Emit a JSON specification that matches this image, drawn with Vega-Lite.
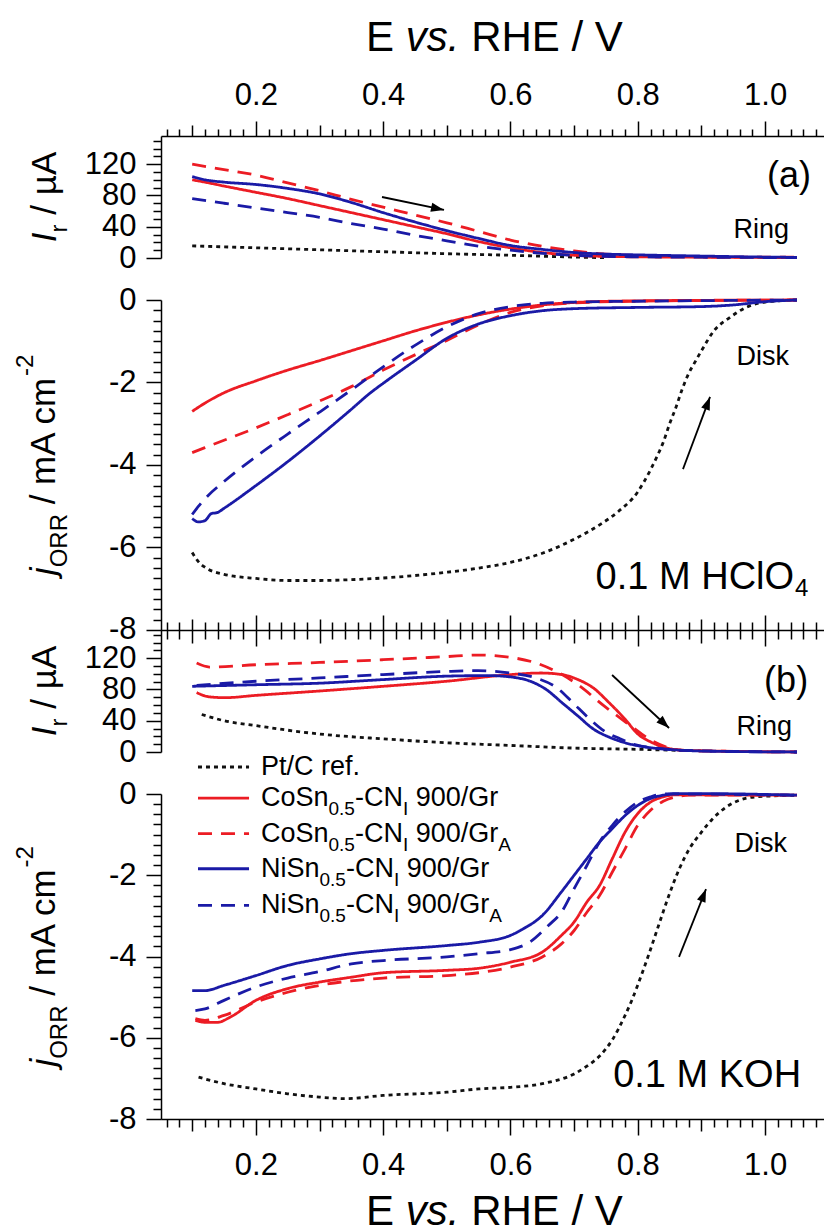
{
"$schema": "https://vega.github.io/schema/vega-lite/v6.json",
"padding": {"left": 14, "top": 16, "right": 0, "bottom": 0},
"background": "white",
"spacing": 42,
"bounds": "flush",
"datasets": {
"curves": [
{"p":"rA","s":"Pt/C ref.","E":0.1,"v":15.5},{"p":"rA","s":"Pt/C ref.","E":0.2,"v":13},{"p":"rA","s":"Pt/C ref.","E":0.3,"v":10.5},{"p":"rA","s":"Pt/C ref.","E":0.4,"v":8},{"p":"rA","s":"Pt/C ref.","E":0.5,"v":5.5},{"p":"rA","s":"Pt/C ref.","E":0.6,"v":3.5},{"p":"rA","s":"Pt/C ref.","E":0.7,"v":1.2},{"p":"rA","s":"Pt/C ref.","E":0.75,"v":0.4},
{"p":"rA","s":"CoSn Gr","E":0.1,"v":100},{"p":"rA","s":"CoSn Gr","E":0.12,"v":97},{"p":"rA","s":"CoSn Gr","E":0.15,"v":92},{"p":"rA","s":"CoSn Gr","E":0.2,"v":84},{"p":"rA","s":"CoSn Gr","E":0.25,"v":76},{"p":"rA","s":"CoSn Gr","E":0.3,"v":67},{"p":"rA","s":"CoSn Gr","E":0.35,"v":58},{"p":"rA","s":"CoSn Gr","E":0.4,"v":49},{"p":"rA","s":"CoSn Gr","E":0.45,"v":40},{"p":"rA","s":"CoSn Gr","E":0.5,"v":31},{"p":"rA","s":"CoSn Gr","E":0.55,"v":21},{"p":"rA","s":"CoSn Gr","E":0.6,"v":13},{"p":"rA","s":"CoSn Gr","E":0.65,"v":7},{"p":"rA","s":"CoSn Gr","E":0.7,"v":3.5},{"p":"rA","s":"CoSn Gr","E":0.75,"v":2},{"p":"rA","s":"CoSn Gr","E":0.8,"v":1.5},{"p":"rA","s":"CoSn Gr","E":0.9,"v":1},{"p":"rA","s":"CoSn Gr","E":1.05,"v":0.5},
{"p":"rA","s":"CoSn GrA","E":0.1,"v":120},{"p":"rA","s":"CoSn GrA","E":0.15,"v":113},{"p":"rA","s":"CoSn GrA","E":0.2,"v":106},{"p":"rA","s":"CoSn GrA","E":0.25,"v":96},{"p":"rA","s":"CoSn GrA","E":0.3,"v":86},{"p":"rA","s":"CoSn GrA","E":0.35,"v":75},{"p":"rA","s":"CoSn GrA","E":0.4,"v":65},{"p":"rA","s":"CoSn GrA","E":0.45,"v":55},{"p":"rA","s":"CoSn GrA","E":0.5,"v":45},{"p":"rA","s":"CoSn GrA","E":0.55,"v":34},{"p":"rA","s":"CoSn GrA","E":0.6,"v":23},{"p":"rA","s":"CoSn GrA","E":0.65,"v":15},{"p":"rA","s":"CoSn GrA","E":0.7,"v":9},{"p":"rA","s":"CoSn GrA","E":0.75,"v":5},{"p":"rA","s":"CoSn GrA","E":0.8,"v":3},{"p":"rA","s":"CoSn GrA","E":0.9,"v":1.5},{"p":"rA","s":"CoSn GrA","E":1.05,"v":1},
{"p":"rA","s":"NiSn Gr","E":0.1,"v":104},{"p":"rA","s":"NiSn Gr","E":0.12,"v":100},{"p":"rA","s":"NiSn Gr","E":0.15,"v":97},{"p":"rA","s":"NiSn Gr","E":0.2,"v":94},{"p":"rA","s":"NiSn Gr","E":0.25,"v":89},{"p":"rA","s":"NiSn Gr","E":0.3,"v":82},{"p":"rA","s":"NiSn Gr","E":0.35,"v":71},{"p":"rA","s":"NiSn Gr","E":0.4,"v":58},{"p":"rA","s":"NiSn Gr","E":0.45,"v":46},{"p":"rA","s":"NiSn Gr","E":0.5,"v":35},{"p":"rA","s":"NiSn Gr","E":0.55,"v":25},{"p":"rA","s":"NiSn Gr","E":0.6,"v":16},{"p":"rA","s":"NiSn Gr","E":0.65,"v":11},{"p":"rA","s":"NiSn Gr","E":0.7,"v":7},{"p":"rA","s":"NiSn Gr","E":0.75,"v":5},{"p":"rA","s":"NiSn Gr","E":0.8,"v":4},{"p":"rA","s":"NiSn Gr","E":0.9,"v":2.5},{"p":"rA","s":"NiSn Gr","E":1.0,"v":1.2},{"p":"rA","s":"NiSn Gr","E":1.05,"v":0.8},
{"p":"rA","s":"NiSn GrA","E":0.1,"v":76},{"p":"rA","s":"NiSn GrA","E":0.15,"v":70},{"p":"rA","s":"NiSn GrA","E":0.2,"v":64},{"p":"rA","s":"NiSn GrA","E":0.25,"v":58},{"p":"rA","s":"NiSn GrA","E":0.3,"v":52},{"p":"rA","s":"NiSn GrA","E":0.35,"v":44},{"p":"rA","s":"NiSn GrA","E":0.4,"v":37},{"p":"rA","s":"NiSn GrA","E":0.45,"v":29},{"p":"rA","s":"NiSn GrA","E":0.5,"v":22},{"p":"rA","s":"NiSn GrA","E":0.55,"v":15},{"p":"rA","s":"NiSn GrA","E":0.6,"v":10},{"p":"rA","s":"NiSn GrA","E":0.65,"v":6},{"p":"rA","s":"NiSn GrA","E":0.7,"v":3.5},{"p":"rA","s":"NiSn GrA","E":0.8,"v":1.5},{"p":"rA","s":"NiSn GrA","E":0.9,"v":1},{"p":"rA","s":"NiSn GrA","E":1.05,"v":0.5},

{"p":"dA","s":"Pt/C ref.","E":0.1,"v":-6.12},{"p":"dA","s":"Pt/C ref.","E":0.11,"v":-6.35},{"p":"dA","s":"Pt/C ref.","E":0.12,"v":-6.48},{"p":"dA","s":"Pt/C ref.","E":0.15,"v":-6.65},{"p":"dA","s":"Pt/C ref.","E":0.2,"v":-6.75},{"p":"dA","s":"Pt/C ref.","E":0.25,"v":-6.8},{"p":"dA","s":"Pt/C ref.","E":0.3,"v":-6.8},{"p":"dA","s":"Pt/C ref.","E":0.35,"v":-6.78},{"p":"dA","s":"Pt/C ref.","E":0.4,"v":-6.74},{"p":"dA","s":"Pt/C ref.","E":0.45,"v":-6.68},{"p":"dA","s":"Pt/C ref.","E":0.5,"v":-6.6},{"p":"dA","s":"Pt/C ref.","E":0.55,"v":-6.5},{"p":"dA","s":"Pt/C ref.","E":0.6,"v":-6.36},{"p":"dA","s":"Pt/C ref.","E":0.65,"v":-6.14},{"p":"dA","s":"Pt/C ref.","E":0.7,"v":-5.8},{"p":"dA","s":"Pt/C ref.","E":0.74,"v":-5.45},{"p":"dA","s":"Pt/C ref.","E":0.77,"v":-5.12},{"p":"dA","s":"Pt/C ref.","E":0.8,"v":-4.65},{"p":"dA","s":"Pt/C ref.","E":0.81,"v":-4.4},{"p":"dA","s":"Pt/C ref.","E":0.83,"v":-3.8},{"p":"dA","s":"Pt/C ref.","E":0.84,"v":-3.45},{"p":"dA","s":"Pt/C ref.","E":0.85,"v":-3.0},{"p":"dA","s":"Pt/C ref.","E":0.86,"v":-2.6},{"p":"dA","s":"Pt/C ref.","E":0.87,"v":-2.15},{"p":"dA","s":"Pt/C ref.","E":0.88,"v":-1.78},{"p":"dA","s":"Pt/C ref.","E":0.89,"v":-1.5},{"p":"dA","s":"Pt/C ref.","E":0.9,"v":-1.23},{"p":"dA","s":"Pt/C ref.","E":0.92,"v":-0.74},{"p":"dA","s":"Pt/C ref.","E":0.945,"v":-0.42},{"p":"dA","s":"Pt/C ref.","E":0.97,"v":-0.18},{"p":"dA","s":"Pt/C ref.","E":1.0,"v":-0.05},{"p":"dA","s":"Pt/C ref.","E":1.05,"v":0},
{"p":"dA","s":"CoSn Gr","E":0.1,"v":-2.7},{"p":"dA","s":"CoSn Gr","E":0.12,"v":-2.5},{"p":"dA","s":"CoSn Gr","E":0.15,"v":-2.25},{"p":"dA","s":"CoSn Gr","E":0.2,"v":-1.96},{"p":"dA","s":"CoSn Gr","E":0.25,"v":-1.7},{"p":"dA","s":"CoSn Gr","E":0.3,"v":-1.47},{"p":"dA","s":"CoSn Gr","E":0.35,"v":-1.23},{"p":"dA","s":"CoSn Gr","E":0.4,"v":-0.99},{"p":"dA","s":"CoSn Gr","E":0.45,"v":-0.75},{"p":"dA","s":"CoSn Gr","E":0.5,"v":-0.54},{"p":"dA","s":"CoSn Gr","E":0.55,"v":-0.36},{"p":"dA","s":"CoSn Gr","E":0.6,"v":-0.22},{"p":"dA","s":"CoSn Gr","E":0.65,"v":-0.12},{"p":"dA","s":"CoSn Gr","E":0.7,"v":-0.06},{"p":"dA","s":"CoSn Gr","E":0.8,"v":-0.02},{"p":"dA","s":"CoSn Gr","E":1.05,"v":0},
{"p":"dA","s":"CoSn GrA","E":0.1,"v":-3.7},{"p":"dA","s":"CoSn GrA","E":0.12,"v":-3.58},{"p":"dA","s":"CoSn GrA","E":0.15,"v":-3.4},{"p":"dA","s":"CoSn GrA","E":0.2,"v":-3.1},{"p":"dA","s":"CoSn GrA","E":0.25,"v":-2.78},{"p":"dA","s":"CoSn GrA","E":0.3,"v":-2.45},{"p":"dA","s":"CoSn GrA","E":0.35,"v":-2.1},{"p":"dA","s":"CoSn GrA","E":0.4,"v":-1.7},{"p":"dA","s":"CoSn GrA","E":0.45,"v":-1.33},{"p":"dA","s":"CoSn GrA","E":0.5,"v":-0.98},{"p":"dA","s":"CoSn GrA","E":0.55,"v":-0.6},{"p":"dA","s":"CoSn GrA","E":0.6,"v":-0.3},{"p":"dA","s":"CoSn GrA","E":0.65,"v":-0.14},{"p":"dA","s":"CoSn GrA","E":0.7,"v":-0.07},{"p":"dA","s":"CoSn GrA","E":0.8,"v":-0.03},{"p":"dA","s":"CoSn GrA","E":1.05,"v":0},
{"p":"dA","s":"NiSn Gr","E":0.1,"v":-5.3},{"p":"dA","s":"NiSn Gr","E":0.11,"v":-5.38},{"p":"dA","s":"NiSn Gr","E":0.12,"v":-5.35},{"p":"dA","s":"NiSn Gr","E":0.13,"v":-5.18},{"p":"dA","s":"NiSn Gr","E":0.14,"v":-5.15},{"p":"dA","s":"NiSn Gr","E":0.15,"v":-5.05},{"p":"dA","s":"NiSn Gr","E":0.2,"v":-4.5},{"p":"dA","s":"NiSn Gr","E":0.25,"v":-3.92},{"p":"dA","s":"NiSn Gr","E":0.3,"v":-3.3},{"p":"dA","s":"NiSn Gr","E":0.35,"v":-2.65},{"p":"dA","s":"NiSn Gr","E":0.38,"v":-2.25},{"p":"dA","s":"NiSn Gr","E":0.4,"v":-2.02},{"p":"dA","s":"NiSn Gr","E":0.45,"v":-1.47},{"p":"dA","s":"NiSn Gr","E":0.5,"v":-0.93},{"p":"dA","s":"NiSn Gr","E":0.55,"v":-0.58},{"p":"dA","s":"NiSn Gr","E":0.6,"v":-0.38},{"p":"dA","s":"NiSn Gr","E":0.65,"v":-0.26},{"p":"dA","s":"NiSn Gr","E":0.7,"v":-0.21},{"p":"dA","s":"NiSn Gr","E":0.8,"v":-0.18},{"p":"dA","s":"NiSn Gr","E":0.9,"v":-0.16},{"p":"dA","s":"NiSn Gr","E":0.95,"v":-0.12},{"p":"dA","s":"NiSn Gr","E":1.0,"v":-0.04},{"p":"dA","s":"NiSn Gr","E":1.05,"v":0},
{"p":"dA","s":"NiSn GrA","E":0.1,"v":-5.2},{"p":"dA","s":"NiSn GrA","E":0.11,"v":-5.0},{"p":"dA","s":"NiSn GrA","E":0.12,"v":-4.82},{"p":"dA","s":"NiSn GrA","E":0.15,"v":-4.4},{"p":"dA","s":"NiSn GrA","E":0.2,"v":-3.8},{"p":"dA","s":"NiSn GrA","E":0.25,"v":-3.25},{"p":"dA","s":"NiSn GrA","E":0.3,"v":-2.72},{"p":"dA","s":"NiSn GrA","E":0.35,"v":-2.18},{"p":"dA","s":"NiSn GrA","E":0.4,"v":-1.62},{"p":"dA","s":"NiSn GrA","E":0.45,"v":-1.1},{"p":"dA","s":"NiSn GrA","E":0.5,"v":-0.65},{"p":"dA","s":"NiSn GrA","E":0.55,"v":-0.33},{"p":"dA","s":"NiSn GrA","E":0.6,"v":-0.16},{"p":"dA","s":"NiSn GrA","E":0.65,"v":-0.08},{"p":"dA","s":"NiSn GrA","E":0.7,"v":-0.05},{"p":"dA","s":"NiSn GrA","E":0.8,"v":-0.03},{"p":"dA","s":"NiSn GrA","E":1.05,"v":0},

{"p":"rB","s":"Pt/C ref.","E":0.115,"v":48},{"p":"rB","s":"Pt/C ref.","E":0.15,"v":40},{"p":"rB","s":"Pt/C ref.","E":0.2,"v":33.7},{"p":"rB","s":"Pt/C ref.","E":0.3,"v":23},{"p":"rB","s":"Pt/C ref.","E":0.4,"v":16.8},{"p":"rB","s":"Pt/C ref.","E":0.5,"v":11.8},{"p":"rB","s":"Pt/C ref.","E":0.6,"v":8.4},{"p":"rB","s":"Pt/C ref.","E":0.7,"v":5},{"p":"rB","s":"Pt/C ref.","E":0.8,"v":3.4},{"p":"rB","s":"Pt/C ref.","E":0.87,"v":2},
{"p":"rB","s":"CoSn Gr","E":0.107,"v":76},{"p":"rB","s":"CoSn Gr","E":0.127,"v":70.5},{"p":"rB","s":"CoSn Gr","E":0.152,"v":69.5},{"p":"rB","s":"CoSn Gr","E":0.2,"v":72.4},{"p":"rB","s":"CoSn Gr","E":0.3,"v":78},{"p":"rB","s":"CoSn Gr","E":0.4,"v":84},{"p":"rB","s":"CoSn Gr","E":0.5,"v":90.5},{"p":"rB","s":"CoSn Gr","E":0.6,"v":99},{"p":"rB","s":"CoSn Gr","E":0.648,"v":101},{"p":"rB","s":"CoSn Gr","E":0.681,"v":99},{"p":"rB","s":"CoSn Gr","E":0.706,"v":92.6},{"p":"rB","s":"CoSn Gr","E":0.73,"v":82},{"p":"rB","s":"CoSn Gr","E":0.755,"v":63},{"p":"rB","s":"CoSn Gr","E":0.78,"v":42},{"p":"rB","s":"CoSn Gr","E":0.8,"v":23},{"p":"rB","s":"CoSn Gr","E":0.821,"v":12.6},{"p":"rB","s":"CoSn Gr","E":0.846,"v":5},{"p":"rB","s":"CoSn Gr","E":0.88,"v":2},{"p":"rB","s":"CoSn Gr","E":1.05,"v":0},
{"p":"rB","s":"CoSn GrA","E":0.107,"v":113.7},{"p":"rB","s":"CoSn GrA","E":0.127,"v":108.6},{"p":"rB","s":"CoSn GrA","E":0.2,"v":111.6},{"p":"rB","s":"CoSn GrA","E":0.3,"v":114.5},{"p":"rB","s":"CoSn GrA","E":0.4,"v":118},{"p":"rB","s":"CoSn GrA","E":0.5,"v":122},{"p":"rB","s":"CoSn GrA","E":0.549,"v":124},{"p":"rB","s":"CoSn GrA","E":0.59,"v":122},{"p":"rB","s":"CoSn GrA","E":0.648,"v":111.6},{"p":"rB","s":"CoSn GrA","E":0.681,"v":99},{"p":"rB","s":"CoSn GrA","E":0.706,"v":86},{"p":"rB","s":"CoSn GrA","E":0.747,"v":59},{"p":"rB","s":"CoSn GrA","E":0.788,"v":34},{"p":"rB","s":"CoSn GrA","E":0.821,"v":15},{"p":"rB","s":"CoSn GrA","E":0.846,"v":6},{"p":"rB","s":"CoSn GrA","E":0.871,"v":2},{"p":"rB","s":"CoSn GrA","E":1.05,"v":0},
{"p":"rB","s":"NiSn Gr","E":0.1,"v":84},{"p":"rB","s":"NiSn Gr","E":0.2,"v":86},{"p":"rB","s":"NiSn Gr","E":0.3,"v":88},{"p":"rB","s":"NiSn Gr","E":0.4,"v":92.6},{"p":"rB","s":"NiSn Gr","E":0.5,"v":97},{"p":"rB","s":"NiSn Gr","E":0.565,"v":97.7},{"p":"rB","s":"NiSn Gr","E":0.6,"v":96},{"p":"rB","s":"NiSn Gr","E":0.631,"v":90.5},{"p":"rB","s":"NiSn Gr","E":0.656,"v":80},{"p":"rB","s":"NiSn Gr","E":0.681,"v":63},{"p":"rB","s":"NiSn Gr","E":0.706,"v":46},{"p":"rB","s":"NiSn Gr","E":0.73,"v":29.5},{"p":"rB","s":"NiSn Gr","E":0.755,"v":19},{"p":"rB","s":"NiSn Gr","E":0.78,"v":11.8},{"p":"rB","s":"NiSn Gr","E":0.813,"v":6.3},{"p":"rB","s":"NiSn Gr","E":0.855,"v":3},{"p":"rB","s":"NiSn Gr","E":0.912,"v":1},{"p":"rB","s":"NiSn Gr","E":1.05,"v":0},
{"p":"rB","s":"NiSn GrA","E":0.107,"v":85},{"p":"rB","s":"NiSn GrA","E":0.2,"v":90.5},{"p":"rB","s":"NiSn GrA","E":0.3,"v":94.7},{"p":"rB","s":"NiSn GrA","E":0.4,"v":99},{"p":"rB","s":"NiSn GrA","E":0.5,"v":103},{"p":"rB","s":"NiSn GrA","E":0.549,"v":104},{"p":"rB","s":"NiSn GrA","E":0.6,"v":101},{"p":"rB","s":"NiSn GrA","E":0.64,"v":94.7},{"p":"rB","s":"NiSn GrA","E":0.673,"v":82},{"p":"rB","s":"NiSn GrA","E":0.698,"v":63},{"p":"rB","s":"NiSn GrA","E":0.722,"v":44},{"p":"rB","s":"NiSn GrA","E":0.747,"v":27},{"p":"rB","s":"NiSn GrA","E":0.772,"v":17},{"p":"rB","s":"NiSn GrA","E":0.797,"v":9},{"p":"rB","s":"NiSn GrA","E":0.83,"v":5},{"p":"rB","s":"NiSn GrA","E":0.871,"v":2},{"p":"rB","s":"NiSn GrA","E":1.05,"v":0},

{"p":"dB","s":"Pt/C ref.","E":0.11,"v":-6.97},{"p":"dB","s":"Pt/C ref.","E":0.15,"v":-7.13},{"p":"dB","s":"Pt/C ref.","E":0.2,"v":-7.26},{"p":"dB","s":"Pt/C ref.","E":0.25,"v":-7.38},{"p":"dB","s":"Pt/C ref.","E":0.3,"v":-7.46},{"p":"dB","s":"Pt/C ref.","E":0.34,"v":-7.5},{"p":"dB","s":"Pt/C ref.","E":0.4,"v":-7.42},{"p":"dB","s":"Pt/C ref.","E":0.5,"v":-7.34},{"p":"dB","s":"Pt/C ref.","E":0.55,"v":-7.26},{"p":"dB","s":"Pt/C ref.","E":0.6,"v":-7.22},{"p":"dB","s":"Pt/C ref.","E":0.65,"v":-7.13},{"p":"dB","s":"Pt/C ref.","E":0.7,"v":-6.89},{"p":"dB","s":"Pt/C ref.","E":0.72,"v":-6.7},{"p":"dB","s":"Pt/C ref.","E":0.74,"v":-6.45},{"p":"dB","s":"Pt/C ref.","E":0.76,"v":-6.05},{"p":"dB","s":"Pt/C ref.","E":0.78,"v":-5.45},{"p":"dB","s":"Pt/C ref.","E":0.79,"v":-5.1},{"p":"dB","s":"Pt/C ref.","E":0.8,"v":-4.7},{"p":"dB","s":"Pt/C ref.","E":0.817,"v":-3.96},{"p":"dB","s":"Pt/C ref.","E":0.833,"v":-3.22},{"p":"dB","s":"Pt/C ref.","E":0.849,"v":-2.49},{"p":"dB","s":"Pt/C ref.","E":0.865,"v":-1.85},{"p":"dB","s":"Pt/C ref.","E":0.881,"v":-1.35},{"p":"dB","s":"Pt/C ref.","E":0.9,"v":-0.94},{"p":"dB","s":"Pt/C ref.","E":0.917,"v":-0.62},{"p":"dB","s":"Pt/C ref.","E":0.939,"v":-0.32},{"p":"dB","s":"Pt/C ref.","E":0.96,"v":-0.15},{"p":"dB","s":"Pt/C ref.","E":0.986,"v":-0.07},{"p":"dB","s":"Pt/C ref.","E":1.05,"v":-0.03},
{"p":"dB","s":"CoSn Gr","E":0.105,"v":-5.57},{"p":"dB","s":"CoSn Gr","E":0.12,"v":-5.62},{"p":"dB","s":"CoSn Gr","E":0.14,"v":-5.62},{"p":"dB","s":"CoSn Gr","E":0.16,"v":-5.49},{"p":"dB","s":"CoSn Gr","E":0.2,"v":-5.08},{"p":"dB","s":"CoSn Gr","E":0.25,"v":-4.79},{"p":"dB","s":"CoSn Gr","E":0.3,"v":-4.63},{"p":"dB","s":"CoSn Gr","E":0.35,"v":-4.51},{"p":"dB","s":"CoSn Gr","E":0.4,"v":-4.4},{"p":"dB","s":"CoSn Gr","E":0.5,"v":-4.34},{"p":"dB","s":"CoSn Gr","E":0.55,"v":-4.29},{"p":"dB","s":"CoSn Gr","E":0.6,"v":-4.14},{"p":"dB","s":"CoSn Gr","E":0.65,"v":-3.89},{"p":"dB","s":"CoSn Gr","E":0.68,"v":-3.48},{"p":"dB","s":"CoSn Gr","E":0.7,"v":-3.15},{"p":"dB","s":"CoSn Gr","E":0.72,"v":-2.66},{"p":"dB","s":"CoSn Gr","E":0.74,"v":-2.25},{"p":"dB","s":"CoSn Gr","E":0.76,"v":-1.59},{"p":"dB","s":"CoSn Gr","E":0.78,"v":-0.94},{"p":"dB","s":"CoSn Gr","E":0.8,"v":-0.48},{"p":"dB","s":"CoSn Gr","E":0.82,"v":-0.2},{"p":"dB","s":"CoSn Gr","E":0.84,"v":-0.07},{"p":"dB","s":"CoSn Gr","E":0.86,"v":-0.02},{"p":"dB","s":"CoSn Gr","E":1.05,"v":-0.03},
{"p":"dB","s":"CoSn GrA","E":0.105,"v":-5.53},{"p":"dB","s":"CoSn GrA","E":0.12,"v":-5.57},{"p":"dB","s":"CoSn GrA","E":0.15,"v":-5.45},{"p":"dB","s":"CoSn GrA","E":0.2,"v":-5.12},{"p":"dB","s":"CoSn GrA","E":0.25,"v":-4.88},{"p":"dB","s":"CoSn GrA","E":0.3,"v":-4.71},{"p":"dB","s":"CoSn GrA","E":0.4,"v":-4.53},{"p":"dB","s":"CoSn GrA","E":0.5,"v":-4.47},{"p":"dB","s":"CoSn GrA","E":0.55,"v":-4.4},{"p":"dB","s":"CoSn GrA","E":0.6,"v":-4.26},{"p":"dB","s":"CoSn GrA","E":0.65,"v":-4.01},{"p":"dB","s":"CoSn GrA","E":0.68,"v":-3.69},{"p":"dB","s":"CoSn GrA","E":0.7,"v":-3.36},{"p":"dB","s":"CoSn GrA","E":0.72,"v":-2.91},{"p":"dB","s":"CoSn GrA","E":0.74,"v":-2.5},{"p":"dB","s":"CoSn GrA","E":0.76,"v":-1.92},{"p":"dB","s":"CoSn GrA","E":0.78,"v":-1.35},{"p":"dB","s":"CoSn GrA","E":0.8,"v":-0.77},{"p":"dB","s":"CoSn GrA","E":0.82,"v":-0.4},{"p":"dB","s":"CoSn GrA","E":0.84,"v":-0.18},{"p":"dB","s":"CoSn GrA","E":0.86,"v":-0.07},{"p":"dB","s":"CoSn GrA","E":0.88,"v":-0.03},{"p":"dB","s":"CoSn GrA","E":1.05,"v":-0.03},
{"p":"dB","s":"NiSn Gr","E":0.1,"v":-4.84},{"p":"dB","s":"NiSn Gr","E":0.12,"v":-4.84},{"p":"dB","s":"NiSn Gr","E":0.15,"v":-4.71},{"p":"dB","s":"NiSn Gr","E":0.2,"v":-4.47},{"p":"dB","s":"NiSn Gr","E":0.25,"v":-4.22},{"p":"dB","s":"NiSn Gr","E":0.3,"v":-4.06},{"p":"dB","s":"NiSn Gr","E":0.35,"v":-3.93},{"p":"dB","s":"NiSn Gr","E":0.4,"v":-3.85},{"p":"dB","s":"NiSn Gr","E":0.5,"v":-3.73},{"p":"dB","s":"NiSn Gr","E":0.55,"v":-3.65},{"p":"dB","s":"NiSn Gr","E":0.6,"v":-3.48},{"p":"dB","s":"NiSn Gr","E":0.62,"v":-3.32},{"p":"dB","s":"NiSn Gr","E":0.65,"v":-2.99},{"p":"dB","s":"NiSn Gr","E":0.68,"v":-2.41},{"p":"dB","s":"NiSn Gr","E":0.7,"v":-2.0},{"p":"dB","s":"NiSn Gr","E":0.72,"v":-1.59},{"p":"dB","s":"NiSn Gr","E":0.74,"v":-1.18},{"p":"dB","s":"NiSn Gr","E":0.76,"v":-0.85},{"p":"dB","s":"NiSn Gr","E":0.78,"v":-0.53},{"p":"dB","s":"NiSn Gr","E":0.8,"v":-0.28},{"p":"dB","s":"NiSn Gr","E":0.82,"v":-0.11},{"p":"dB","s":"NiSn Gr","E":0.84,"v":-0.03},{"p":"dB","s":"NiSn Gr","E":0.86,"v":0.01},{"p":"dB","s":"NiSn Gr","E":0.9,"v":0.01},{"p":"dB","s":"NiSn Gr","E":1.05,"v":-0.03},
{"p":"dB","s":"NiSn GrA","E":0.105,"v":-5.33},{"p":"dB","s":"NiSn GrA","E":0.12,"v":-5.29},{"p":"dB","s":"NiSn GrA","E":0.15,"v":-5.08},{"p":"dB","s":"NiSn GrA","E":0.2,"v":-4.75},{"p":"dB","s":"NiSn GrA","E":0.25,"v":-4.53},{"p":"dB","s":"NiSn GrA","E":0.3,"v":-4.37},{"p":"dB","s":"NiSn GrA","E":0.35,"v":-4.18},{"p":"dB","s":"NiSn GrA","E":0.4,"v":-4.1},{"p":"dB","s":"NiSn GrA","E":0.5,"v":-4.01},{"p":"dB","s":"NiSn GrA","E":0.55,"v":-3.93},{"p":"dB","s":"NiSn GrA","E":0.6,"v":-3.83},{"p":"dB","s":"NiSn GrA","E":0.63,"v":-3.65},{"p":"dB","s":"NiSn GrA","E":0.66,"v":-3.23},{"p":"dB","s":"NiSn GrA","E":0.68,"v":-2.91},{"p":"dB","s":"NiSn GrA","E":0.7,"v":-2.33},{"p":"dB","s":"NiSn GrA","E":0.72,"v":-1.76},{"p":"dB","s":"NiSn GrA","E":0.74,"v":-1.18},{"p":"dB","s":"NiSn GrA","E":0.76,"v":-0.77},{"p":"dB","s":"NiSn GrA","E":0.78,"v":-0.44},{"p":"dB","s":"NiSn GrA","E":0.8,"v":-0.2},{"p":"dB","s":"NiSn GrA","E":0.82,"v":-0.07},{"p":"dB","s":"NiSn GrA","E":0.84,"v":0},{"p":"dB","s":"NiSn GrA","E":1.05,"v":-0.03}
],
"arrows": [
{"p":"rA","x1":0.3982,"y1":78,"x2":0.4956,"y2":61.4},
{"p":"dA","x1":0.871,"y1":-4.1,"x2":0.9135,"y2":-2.35},
{"p":"rB","x1":0.7596,"y1":98.5,"x2":0.8491,"y2":30.7},
{"p":"dB","x1":0.8648,"y1":-4.01,"x2":0.9072,"y2":-2.34}
],
"notes": [
{"p":"rA","k":"x1","text":"E","x":0.3731,"y":264.7},
{"p":"rA","k":"x2","text":"vs.","x":0.3731,"y":264.7},
{"p":"rA","k":"x3","text":"RHE / V","x":0.3731,"y":264.7},
{"p":"rA","k":"big","text":"(a)","x":1.0376,"y":105},
{"p":"rA","k":"tag","text":"Ring","x":1.0376,"y":35.8},
{"p":"rA","k":"t1","text":"I","x":-0.114,"y":20.2},
{"p":"rA","k":"t2","text":"r","x":-0.114,"y":20.2},
{"p":"rA","k":"t3","text":"/ µA","x":-0.114,"y":20.2},
{"p":"dA","k":"tag","text":"Disk","x":1.0376,"y":-1.37},
{"p":"dA","k":"el","text":"0.1 M HClO","x":1.0455,"y":-7.0},
{"p":"dA","k":"elsub","text":"4","x":1.0455,"y":-7.0},
{"p":"dA","k":"t1","text":"j","x":-0.1155,"y":-6.67},
{"p":"dA","k":"t2","text":"ORR","x":-0.1155,"y":-6.67},
{"p":"dA","k":"t3","text":"/ mA cm","x":-0.1155,"y":-6.67},
{"p":"dA","k":"t4","text":"-2","x":-0.1155,"y":-6.67},
{"p":"rB","k":"big","text":"(b)","x":1.033,"y":90.8},
{"p":"rB","k":"tag","text":"Ring","x":1.0424,"y":32.4},
{"p":"rB","k":"t1","text":"I","x":-0.114,"y":20.2},
{"p":"rB","k":"t2","text":"r","x":-0.114,"y":20.2},
{"p":"rB","k":"t3","text":"/ µA","x":-0.114,"y":20.2},
{"p":"dB","k":"tag","text":"Disk","x":1.0345,"y":-1.243},
{"p":"dB","k":"el","text":"0.1 M KOH","x":1.0565,"y":-7.21},
{"p":"dB","k":"t1","text":"j","x":-0.1155,"y":-6.71},
{"p":"dB","k":"t2","text":"ORR","x":-0.1155,"y":-6.71},
{"p":"dB","k":"t3","text":"/ mA cm","x":-0.1155,"y":-6.71},
{"p":"dB","k":"t4","text":"-2","x":-0.1155,"y":-6.71},
{"p":"dB","k":"x1","text":"E","x":0.3731,"y":-10.6},
{"p":"dB","k":"x2","text":"vs.","x":0.3731,"y":-10.6},
{"p":"dB","k":"x3","text":"RHE / V","x":0.3731,"y":-10.6}
],
"leg": [
{"s":"Pt/C ref.","g":"Pt","y":0.665,"x1":0.1091,"x2":0.1893,"tx":0.2081,"a":"Pt/C ref.","b":"","c":"","d":"","e":"","f":""},
{"s":"CoSn Gr","g":"Co","y":-0.1,"x1":0.1091,"x2":0.1893,"tx":0.2081,"a":"CoSn","b":"0.5","c":"-CN","d":"I","e":"900/Gr","f":""},
{"s":"CoSn GrA","g":"Co","y":-0.977,"x1":0.1091,"x2":0.1893,"tx":0.2081,"a":"CoSn","b":"0.5","c":"-CN","d":"I","e":"900/Gr","f":"A"},
{"s":"NiSn Gr","g":"Ni","y":-1.84,"x1":0.1091,"x2":0.1893,"tx":0.2081,"a":"NiSn","b":"0.5","c":"-CN","d":"I","e":"900/Gr","f":""},
{"s":"NiSn GrA","g":"Ni","y":-2.74,"x1":0.1091,"x2":0.1893,"tx":0.2081,"a":"NiSn","b":"0.5","c":"-CN","d":"I","e":"900/Gr","f":"A"}
]
},
"vconcat": [
{
"width": 663, "height": 122,
"resolve": {"axis": {"x": "independent", "y": "independent"}},
"layer": [
{"data": {"name": "curves"}, "transform": [{"filter": "datum.p === 'rA'"}],
 "mark": {"type": "line", "strokeWidth": 2.8, "interpolate": "monotone"},
 "encoding": {
  "x": {"field": "E", "type": "quantitative", "scale": {"domain": [0.051, 1.0925], "nice": false, "zero": false},
   "axis": {"orient": "top", "title": null, "labelPadding": 10,
    "values": [0.06,0.08,0.1,0.12,0.14,0.16,0.18,0.2,0.22,0.24,0.26,0.28,0.3,0.32,0.34,0.36,0.38,0.4,0.42,0.44,0.46,0.48,0.5,0.52,0.54,0.56,0.58,0.6,0.62,0.64,0.66,0.68,0.7,0.72,0.74,0.76,0.78,0.8,0.82,0.84,0.86,0.88,0.9,0.92,0.94,0.96,0.98,1.0,1.02,1.04,1.06,1.08],
    "tickSize": {"condition": [{"test": "abs(datum.value*5-round(datum.value*5))<0.001", "value": 15}, {"test": "abs(datum.value*10-round(datum.value*10))<0.001", "value": 11}], "value": 7},
    "labelExpr": "abs(datum.value*5-round(datum.value*5))<0.001 ? format(datum.value,'.1f') : ''"}},
  "y": {"field": "v", "type": "quantitative", "scale": {"domain": [0, 156], "nice": false, "zero": false},
   "axis": {"orient": "left", "title": null, "values": [0,10,20,30,40,50,60,70,80,90,100,110,120,130,140,150],
    "tickSize": {"condition": {"test": "datum.value % 40 === 0", "value": 15}, "value": 8},
    "labelExpr": "datum.value % 40 === 0 ? '' + datum.value : ''"}},
  "color": {"field": "s", "type": "nominal", "scale": {"domain": ["Pt/C ref.","CoSn Gr","CoSn GrA","NiSn Gr","NiSn GrA"], "range": ["#111111","#ec1c24","#ec1c24","#1a1aa6","#1a1aa6"]}, "legend": null},
  "strokeDash": {"field": "s", "type": "nominal", "scale": {"domain": ["Pt/C ref.","CoSn Gr","CoSn GrA","NiSn Gr","NiSn GrA"], "range": [[4,4],[1,0],[14,9],[1,0],[14,9]]}, "legend": null}
 }},
{"data": {"name": "arrows"}, "transform": [{"filter": "datum.p === 'rA'"}],
 "mark": {"type": "rule", "strokeWidth": 1.8, "color": "black"},
 "encoding": {
  "x": {"field": "x1", "type": "quantitative", "scale": {"domain": [0.051, 1.0925], "nice": false, "zero": false}, "axis": null},
  "x2": {"field": "x2"},
  "y": {"field": "y1", "type": "quantitative", "scale": {"domain": [0, 156], "nice": false, "zero": false}, "axis": null},
  "y2": {"field": "y2"}}},
{"data": {"name": "arrows"}, "transform": [{"filter": "datum.p === 'rA'"}],
 "mark": {"type": "point", "shape": "M0,0L-0.7,2L0.7,2Z", "size": 169, "filled": true, "color": "black", "opacity": 1, "angle": 102, "strokeWidth": 0},
 "encoding": {
  "x": {"field": "x2", "type": "quantitative", "scale": {"domain": [0.051, 1.0925], "nice": false, "zero": false}, "axis": null},
  "y": {"field": "y2", "type": "quantitative", "scale": {"domain": [0, 156], "nice": false, "zero": false}, "axis": null}}},
{"data": {"name": "notes"}, "transform": [{"filter": "datum.p === 'rA' && datum.k === 'x1'"}],
 "mark": {"type": "text", "fontSize": 42, "align": "left", "baseline": "alphabetic"},
 "encoding": {
  "x": {"field": "x", "type": "quantitative", "scale": {"domain": [0.051, 1.0925], "nice": false, "zero": false}, "axis": null},
  "y": {"field": "y", "type": "quantitative", "scale": {"domain": [0, 156], "nice": false, "zero": false}, "axis": null},
  "text": {"field": "text"}}},
{"data": {"name": "notes"}, "transform": [{"filter": "datum.p === 'rA' && datum.k === 'x2'"}],
 "mark": {"type": "text", "fontSize": 42, "align": "left", "baseline": "alphabetic", "fontStyle": "italic", "dx": 39.7},
 "encoding": {
  "x": {"field": "x", "type": "quantitative", "scale": {"domain": [0.051, 1.0925], "nice": false, "zero": false}, "axis": null},
  "y": {"field": "y", "type": "quantitative", "scale": {"domain": [0, 156], "nice": false, "zero": false}, "axis": null},
  "text": {"field": "text"}}},
{"data": {"name": "notes"}, "transform": [{"filter": "datum.p === 'rA' && datum.k === 'x3'"}],
 "mark": {"type": "text", "fontSize": 42, "align": "left", "baseline": "alphabetic", "dx": 105.1},
 "encoding": {
  "x": {"field": "x", "type": "quantitative", "scale": {"domain": [0.051, 1.0925], "nice": false, "zero": false}, "axis": null},
  "y": {"field": "y", "type": "quantitative", "scale": {"domain": [0, 156], "nice": false, "zero": false}, "axis": null},
  "text": {"field": "text"}}},
{"data": {"name": "notes"}, "transform": [{"filter": "datum.p === 'rA' && datum.k === 'big'"}],
 "mark": {"type": "text", "fontSize": 36, "align": "center", "baseline": "middle"},
 "encoding": {
  "x": {"field": "x", "type": "quantitative", "scale": {"domain": [0.051, 1.0925], "nice": false, "zero": false}, "axis": null},
  "y": {"field": "y", "type": "quantitative", "scale": {"domain": [0, 156], "nice": false, "zero": false}, "axis": null},
  "text": {"field": "text"}}},
{"data": {"name": "notes"}, "transform": [{"filter": "datum.p === 'rA' && datum.k === 'tag'"}],
 "mark": {"type": "text", "fontSize": 27, "align": "right", "baseline": "middle"},
 "encoding": {
  "x": {"field": "x", "type": "quantitative", "scale": {"domain": [0.051, 1.0925], "nice": false, "zero": false}, "axis": null},
  "y": {"field": "y", "type": "quantitative", "scale": {"domain": [0, 156], "nice": false, "zero": false}, "axis": null},
  "text": {"field": "text"}}},
{"data": {"name": "notes"}, "transform": [{"filter": "datum.p === 'rA' && datum.k === 't1'"}],
 "mark": {"type": "text", "angle": 270, "align": "left", "baseline": "alphabetic", "fontSize": 35, "fontStyle": "italic"},
 "encoding": {
  "x": {"field": "x", "type": "quantitative", "scale": {"domain": [0.051, 1.0925], "nice": false, "zero": false}, "axis": null},
  "y": {"field": "y", "type": "quantitative", "scale": {"domain": [0, 156], "nice": false, "zero": false}, "axis": null},
  "text": {"field": "text"}}},
{"data": {"name": "notes"}, "transform": [{"filter": "datum.p === 'rA' && datum.k === 't2'"}],
 "mark": {"type": "text", "angle": 270, "align": "left", "baseline": "alphabetic", "fontSize": 24, "dx": 9.7, "dy": 11},
 "encoding": {
  "x": {"field": "x", "type": "quantitative", "scale": {"domain": [0.051, 1.0925], "nice": false, "zero": false}, "axis": null},
  "y": {"field": "y", "type": "quantitative", "scale": {"domain": [0, 156], "nice": false, "zero": false}, "axis": null},
  "text": {"field": "text"}}},
{"data": {"name": "notes"}, "transform": [{"filter": "datum.p === 'rA' && datum.k === 't3'"}],
 "mark": {"type": "text", "angle": 270, "align": "left", "baseline": "alphabetic", "fontSize": 35, "dx": 27.5},
 "encoding": {
  "x": {"field": "x", "type": "quantitative", "scale": {"domain": [0.051, 1.0925], "nice": false, "zero": false}, "axis": null},
  "y": {"field": "y", "type": "quantitative", "scale": {"domain": [0, 156], "nice": false, "zero": false}, "axis": null},
  "text": {"field": "text"}}}
]
},
{
"width": 663, "height": 452,
"resolve": {"scale": {"y": "independent"}, "axis": {"x": "independent", "y": "independent"}},
"layer": [
{"data": {"name": "curves"}, "transform": [{"filter": "datum.p === 'dA'"}],
 "mark": {"type": "line", "strokeWidth": 2.8, "interpolate": "monotone"},
 "encoding": {
  "x": {"field": "E", "type": "quantitative", "scale": {"domain": [0.051, 1.0925], "nice": false, "zero": false},
   "axis": {"orient": "bottom", "offset": -122, "title": null, "labels": false,
    "values": [0.06,0.08,0.1,0.12,0.14,0.16,0.18,0.2,0.22,0.24,0.26,0.28,0.3,0.32,0.34,0.36,0.38,0.4,0.42,0.44,0.46,0.48,0.5,0.52,0.54,0.56,0.58,0.6,0.62,0.64,0.66,0.68,0.7,0.72,0.74,0.76,0.78,0.8,0.82,0.84,0.86,0.88,0.9,0.92,0.94,0.96,0.98,1.0,1.02,1.04,1.06,1.08],
    "tickSize": {"condition": [{"test": "abs(datum.value*5-round(datum.value*5))<0.001", "value": 16}, {"test": "abs(datum.value*10-round(datum.value*10))<0.001", "value": 13}], "value": 9}}},
  "y": {"field": "v", "type": "quantitative", "scale": {"domain": [-10.958, 0], "nice": false, "zero": false},
   "axis": {"orient": "left", "title": null, "values": [-8,-7.75,-7.5,-7.25,-7,-6.75,-6.5,-6.25,-6,-5.75,-5.5,-5.25,-5,-4.75,-4.5,-4.25,-4,-3.75,-3.5,-3.25,-3,-2.75,-2.5,-2.25,-2,-1.75,-1.5,-1.25,-1,-0.75,-0.5,-0.25,0],
    "tickSize": {"condition": {"test": "datum.value % 2 === 0", "value": 15}, "value": 8},
    "labelExpr": "datum.value % 2 === 0 ? '' + datum.value : ''"}},
  "color": {"field": "s", "type": "nominal", "scale": {"domain": ["Pt/C ref.","CoSn Gr","CoSn GrA","NiSn Gr","NiSn GrA"], "range": ["#111111","#ec1c24","#ec1c24","#1a1aa6","#1a1aa6"]}, "legend": null},
  "strokeDash": {"field": "s", "type": "nominal", "scale": {"domain": ["Pt/C ref.","CoSn Gr","CoSn GrA","NiSn Gr","NiSn GrA"], "range": [[4,4],[1,0],[14,9],[1,0],[14,9]]}, "legend": null}
 }},
{"data": {"name": "curves"}, "transform": [{"filter": "datum.p === 'rB'"}],
 "mark": {"type": "line", "strokeWidth": 2.8, "interpolate": "monotone"},
 "encoding": {
  "x": {"field": "E", "type": "quantitative", "scale": {"domain": [0.051, 1.0925], "nice": false, "zero": false},
   "axis": {"orient": "top", "offset": -330, "title": null, "labels": false, "domain": false,
    "values": [0.06,0.08,0.1,0.12,0.14,0.16,0.18,0.2,0.22,0.24,0.26,0.28,0.3,0.32,0.34,0.36,0.38,0.4,0.42,0.44,0.46,0.48,0.5,0.52,0.54,0.56,0.58,0.6,0.62,0.64,0.66,0.68,0.7,0.72,0.74,0.76,0.78,0.8,0.82,0.84,0.86,0.88,0.9,0.92,0.94,0.96,0.98,1.0,1.02,1.04,1.06,1.08],
    "tickSize": {"condition": [{"test": "abs(datum.value*5-round(datum.value*5))<0.001", "value": 15}, {"test": "abs(datum.value*10-round(datum.value*10))<0.001", "value": 11}], "value": 8}}},
  "y": {"field": "v", "type": "quantitative", "scale": {"domain": [0, 578], "nice": false, "zero": false},
   "axis": {"orient": "left", "title": null, "domain": false, "values": [0,10,20,30,40,50,60,70,80,90,100,110,120,130,140,150],
    "tickSize": {"condition": {"test": "datum.value % 40 === 0", "value": 15}, "value": 8},
    "labelExpr": "datum.value % 40 === 0 ? '' + datum.value : ''"}},
  "color": {"field": "s", "type": "nominal", "scale": {"domain": ["Pt/C ref.","CoSn Gr","CoSn GrA","NiSn Gr","NiSn GrA"], "range": ["#111111","#ec1c24","#ec1c24","#1a1aa6","#1a1aa6"]}, "legend": null},
  "strokeDash": {"field": "s", "type": "nominal", "scale": {"domain": ["Pt/C ref.","CoSn Gr","CoSn GrA","NiSn Gr","NiSn GrA"], "range": [[4,4],[1,0],[14,9],[1,0],[14,9]]}, "legend": null}
 }},
{"data": {"name": "arrows"}, "transform": [{"filter": "datum.p === 'dA'"}],
 "mark": {"type": "rule", "strokeWidth": 1.8, "color": "black"},
 "encoding": {
  "x": {"field": "x1", "type": "quantitative", "scale": {"domain": [0.051, 1.0925], "nice": false, "zero": false}, "axis": null},
  "x2": {"field": "x2"},
  "y": {"field": "y1", "type": "quantitative", "scale": {"domain": [-10.958, 0], "nice": false, "zero": false}, "axis": null},
  "y2": {"field": "y2"}}},
{"data": {"name": "arrows"}, "transform": [{"filter": "datum.p === 'dA'"}],
 "mark": {"type": "point", "shape": "M0,0L-0.7,2L0.7,2Z", "size": 169, "filled": true, "color": "black", "opacity": 1, "angle": 20.6, "strokeWidth": 0},
 "encoding": {
  "x": {"field": "x2", "type": "quantitative", "scale": {"domain": [0.051, 1.0925], "nice": false, "zero": false}, "axis": null},
  "y": {"field": "y2", "type": "quantitative", "scale": {"domain": [-10.958, 0], "nice": false, "zero": false}, "axis": null}}},
{"data": {"name": "arrows"}, "transform": [{"filter": "datum.p === 'rB'"}],
 "mark": {"type": "rule", "strokeWidth": 1.8, "color": "black"},
 "encoding": {
  "x": {"field": "x1", "type": "quantitative", "scale": {"domain": [0.051, 1.0925], "nice": false, "zero": false}, "axis": null},
  "x2": {"field": "x2"},
  "y": {"field": "y1", "type": "quantitative", "scale": {"domain": [0, 578], "nice": false, "zero": false}, "axis": null},
  "y2": {"field": "y2"}}},
{"data": {"name": "arrows"}, "transform": [{"filter": "datum.p === 'rB'"}],
 "mark": {"type": "point", "shape": "M0,0L-0.7,2L0.7,2Z", "size": 169, "filled": true, "color": "black", "opacity": 1, "angle": 133, "strokeWidth": 0},
 "encoding": {
  "x": {"field": "x2", "type": "quantitative", "scale": {"domain": [0.051, 1.0925], "nice": false, "zero": false}, "axis": null},
  "y": {"field": "y2", "type": "quantitative", "scale": {"domain": [0, 578], "nice": false, "zero": false}, "axis": null}}},
{"data": {"name": "notes"}, "transform": [{"filter": "datum.p === 'dA' && datum.k === 'tag'"}],
 "mark": {"type": "text", "fontSize": 27, "align": "right", "baseline": "middle"},
 "encoding": {
  "x": {"field": "x", "type": "quantitative", "scale": {"domain": [0.051, 1.0925], "nice": false, "zero": false}, "axis": null},
  "y": {"field": "y", "type": "quantitative", "scale": {"domain": [-10.958, 0], "nice": false, "zero": false}, "axis": null},
  "text": {"field": "text"}}},
{"data": {"name": "notes"}, "transform": [{"filter": "datum.p === 'dA' && datum.k === 'el'"}],
 "mark": {"type": "text", "fontSize": 38, "align": "right", "baseline": "alphabetic"},
 "encoding": {
  "x": {"field": "x", "type": "quantitative", "scale": {"domain": [0.051, 1.0925], "nice": false, "zero": false}, "axis": null},
  "y": {"field": "y", "type": "quantitative", "scale": {"domain": [-10.958, 0], "nice": false, "zero": false}, "axis": null},
  "text": {"field": "text"}}},
{"data": {"name": "notes"}, "transform": [{"filter": "datum.p === 'dA' && datum.k === 'elsub'"}],
 "mark": {"type": "text", "fontSize": 24, "align": "left", "baseline": "alphabetic", "dx": 1, "dy": 7},
 "encoding": {
  "x": {"field": "x", "type": "quantitative", "scale": {"domain": [0.051, 1.0925], "nice": false, "zero": false}, "axis": null},
  "y": {"field": "y", "type": "quantitative", "scale": {"domain": [-10.958, 0], "nice": false, "zero": false}, "axis": null},
  "text": {"field": "text"}}},
{"data": {"name": "notes"}, "transform": [{"filter": "datum.p === 'rB' && datum.k === 'big'"}],
 "mark": {"type": "text", "fontSize": 36, "align": "center", "baseline": "middle"},
 "encoding": {
  "x": {"field": "x", "type": "quantitative", "scale": {"domain": [0.051, 1.0925], "nice": false, "zero": false}, "axis": null},
  "y": {"field": "y", "type": "quantitative", "scale": {"domain": [0, 578], "nice": false, "zero": false}, "axis": null},
  "text": {"field": "text"}}},
{"data": {"name": "notes"}, "transform": [{"filter": "datum.p === 'rB' && datum.k === 'tag'"}],
 "mark": {"type": "text", "fontSize": 27, "align": "right", "baseline": "middle"},
 "encoding": {
  "x": {"field": "x", "type": "quantitative", "scale": {"domain": [0.051, 1.0925], "nice": false, "zero": false}, "axis": null},
  "y": {"field": "y", "type": "quantitative", "scale": {"domain": [0, 578], "nice": false, "zero": false}, "axis": null},
  "text": {"field": "text"}}},
{"data": {"name": "notes"}, "transform": [{"filter": "datum.p === 'dA' && datum.k === 't1'"}],
 "mark": {"type": "text", "angle": 270, "align": "left", "baseline": "alphabetic", "fontSize": 35, "fontStyle": "italic"},
 "encoding": {
  "x": {"field": "x", "type": "quantitative", "scale": {"domain": [0.051, 1.0925], "nice": false, "zero": false}, "axis": null},
  "y": {"field": "y", "type": "quantitative", "scale": {"domain": [-10.958, 0], "nice": false, "zero": false}, "axis": null},
  "text": {"field": "text"}}},
{"data": {"name": "notes"}, "transform": [{"filter": "datum.p === 'dA' && datum.k === 't2'"}],
 "mark": {"type": "text", "angle": 270, "align": "left", "baseline": "alphabetic", "fontSize": 24, "dx": 7.8, "dy": 12},
 "encoding": {
  "x": {"field": "x", "type": "quantitative", "scale": {"domain": [0.051, 1.0925], "nice": false, "zero": false}, "axis": null},
  "y": {"field": "y", "type": "quantitative", "scale": {"domain": [-10.958, 0], "nice": false, "zero": false}, "axis": null},
  "text": {"field": "text"}}},
{"data": {"name": "notes"}, "transform": [{"filter": "datum.p === 'dA' && datum.k === 't3'"}],
 "mark": {"type": "text", "angle": 270, "align": "left", "baseline": "alphabetic", "fontSize": 35, "dx": 70.8},
 "encoding": {
  "x": {"field": "x", "type": "quantitative", "scale": {"domain": [0.051, 1.0925], "nice": false, "zero": false}, "axis": null},
  "y": {"field": "y", "type": "quantitative", "scale": {"domain": [-10.958, 0], "nice": false, "zero": false}, "axis": null},
  "text": {"field": "text"}}},
{"data": {"name": "notes"}, "transform": [{"filter": "datum.p === 'dA' && datum.k === 't4'"}],
 "mark": {"type": "text", "angle": 270, "align": "left", "baseline": "alphabetic", "fontSize": 24, "dx": 199.1, "dy": -22},
 "encoding": {
  "x": {"field": "x", "type": "quantitative", "scale": {"domain": [0.051, 1.0925], "nice": false, "zero": false}, "axis": null},
  "y": {"field": "y", "type": "quantitative", "scale": {"domain": [-10.958, 0], "nice": false, "zero": false}, "axis": null},
  "text": {"field": "text"}}},
{"data": {"name": "notes"}, "transform": [{"filter": "datum.p === 'rB' && datum.k === 't1'"}],
 "mark": {"type": "text", "angle": 270, "align": "left", "baseline": "alphabetic", "fontSize": 35, "fontStyle": "italic"},
 "encoding": {
  "x": {"field": "x", "type": "quantitative", "scale": {"domain": [0.051, 1.0925], "nice": false, "zero": false}, "axis": null},
  "y": {"field": "y", "type": "quantitative", "scale": {"domain": [0, 578], "nice": false, "zero": false}, "axis": null},
  "text": {"field": "text"}}},
{"data": {"name": "notes"}, "transform": [{"filter": "datum.p === 'rB' && datum.k === 't2'"}],
 "mark": {"type": "text", "angle": 270, "align": "left", "baseline": "alphabetic", "fontSize": 24, "dx": 9.7, "dy": 11},
 "encoding": {
  "x": {"field": "x", "type": "quantitative", "scale": {"domain": [0.051, 1.0925], "nice": false, "zero": false}, "axis": null},
  "y": {"field": "y", "type": "quantitative", "scale": {"domain": [0, 578], "nice": false, "zero": false}, "axis": null},
  "text": {"field": "text"}}},
{"data": {"name": "notes"}, "transform": [{"filter": "datum.p === 'rB' && datum.k === 't3'"}],
 "mark": {"type": "text", "angle": 270, "align": "left", "baseline": "alphabetic", "fontSize": 35, "dx": 27.5},
 "encoding": {
  "x": {"field": "x", "type": "quantitative", "scale": {"domain": [0.051, 1.0925], "nice": false, "zero": false}, "axis": null},
  "y": {"field": "y", "type": "quantitative", "scale": {"domain": [0, 578], "nice": false, "zero": false}, "axis": null},
  "text": {"field": "text"}}}
]
},
{
"width": 663, "height": 325,
"resolve": {"axis": {"x": "independent", "y": "independent"}},
"layer": [
{"data": {"name": "curves"}, "transform": [{"filter": "datum.p === 'dB'"}],
 "mark": {"type": "line", "strokeWidth": 2.8, "interpolate": "monotone"},
 "encoding": {
  "x": {"field": "E", "type": "quantitative", "scale": {"domain": [0.051, 1.0925], "nice": false, "zero": false},
   "axis": {"orient": "bottom", "title": null, "labelPadding": 15,
    "values": [0.06,0.08,0.1,0.12,0.14,0.16,0.18,0.2,0.22,0.24,0.26,0.28,0.3,0.32,0.34,0.36,0.38,0.4,0.42,0.44,0.46,0.48,0.5,0.52,0.54,0.56,0.58,0.6,0.62,0.64,0.66,0.68,0.7,0.72,0.74,0.76,0.78,0.8,0.82,0.84,0.86,0.88,0.9,0.92,0.94,0.96,0.98,1.0,1.02,1.04,1.06,1.08],
    "tickSize": {"condition": [{"test": "abs(datum.value*5-round(datum.value*5))<0.001", "value": 16}, {"test": "abs(datum.value*10-round(datum.value*10))<0.001", "value": 12}], "value": 8},
    "labelExpr": "abs(datum.value*5-round(datum.value*5))<0.001 ? format(datum.value,'.1f') : ''"}},
  "y": {"field": "v", "type": "quantitative", "scale": {"domain": [-8, 0], "nice": false, "zero": false},
   "axis": {"orient": "left", "title": null, "values": [-8,-7.75,-7.5,-7.25,-7,-6.75,-6.5,-6.25,-6,-5.75,-5.5,-5.25,-5,-4.75,-4.5,-4.25,-4,-3.75,-3.5,-3.25,-3,-2.75,-2.5,-2.25,-2,-1.75,-1.5,-1.25,-1,-0.75,-0.5,-0.25,0],
    "tickSize": {"condition": {"test": "datum.value % 2 === 0", "value": 15}, "value": 8},
    "labelExpr": "datum.value % 2 === 0 ? '' + datum.value : ''"}},
  "color": {"field": "s", "type": "nominal", "scale": {"domain": ["Pt/C ref.","CoSn Gr","CoSn GrA","NiSn Gr","NiSn GrA"], "range": ["#111111","#ec1c24","#ec1c24","#1a1aa6","#1a1aa6"]}, "legend": null},
  "strokeDash": {"field": "s", "type": "nominal", "scale": {"domain": ["Pt/C ref.","CoSn Gr","CoSn GrA","NiSn Gr","NiSn GrA"], "range": [[4,4],[1,0],[14,9],[1,0],[14,9]]}, "legend": null}
 }},
{"data": {"name": "arrows"}, "transform": [{"filter": "datum.p === 'dB'"}],
 "mark": {"type": "rule", "strokeWidth": 1.8, "color": "black"},
 "encoding": {
  "x": {"field": "x1", "type": "quantitative", "scale": {"domain": [0.051, 1.0925], "nice": false, "zero": false}, "axis": null},
  "x2": {"field": "x2"},
  "y": {"field": "y1", "type": "quantitative", "scale": {"domain": [-8, 0], "nice": false, "zero": false}, "axis": null},
  "y2": {"field": "y2"}}},
{"data": {"name": "arrows"}, "transform": [{"filter": "datum.p === 'dB'"}],
 "mark": {"type": "point", "shape": "M0,0L-0.7,2L0.7,2Z", "size": 169, "filled": true, "color": "black", "opacity": 1, "angle": 21.7, "strokeWidth": 0},
 "encoding": {
  "x": {"field": "x2", "type": "quantitative", "scale": {"domain": [0.051, 1.0925], "nice": false, "zero": false}, "axis": null},
  "y": {"field": "y2", "type": "quantitative", "scale": {"domain": [-8, 0], "nice": false, "zero": false}, "axis": null}}},
{"data": {"name": "notes"}, "transform": [{"filter": "datum.p === 'dB' && datum.k === 'x1'"}],
 "mark": {"type": "text", "fontSize": 42, "align": "left", "baseline": "alphabetic"},
 "encoding": {
  "x": {"field": "x", "type": "quantitative", "scale": {"domain": [0.051, 1.0925], "nice": false, "zero": false}, "axis": null},
  "y": {"field": "y", "type": "quantitative", "scale": {"domain": [-8, 0], "nice": false, "zero": false}, "axis": null},
  "text": {"field": "text"}}},
{"data": {"name": "notes"}, "transform": [{"filter": "datum.p === 'dB' && datum.k === 'x2'"}],
 "mark": {"type": "text", "fontSize": 42, "align": "left", "baseline": "alphabetic", "fontStyle": "italic", "dx": 39.7},
 "encoding": {
  "x": {"field": "x", "type": "quantitative", "scale": {"domain": [0.051, 1.0925], "nice": false, "zero": false}, "axis": null},
  "y": {"field": "y", "type": "quantitative", "scale": {"domain": [-8, 0], "nice": false, "zero": false}, "axis": null},
  "text": {"field": "text"}}},
{"data": {"name": "notes"}, "transform": [{"filter": "datum.p === 'dB' && datum.k === 'x3'"}],
 "mark": {"type": "text", "fontSize": 42, "align": "left", "baseline": "alphabetic", "dx": 105.1},
 "encoding": {
  "x": {"field": "x", "type": "quantitative", "scale": {"domain": [0.051, 1.0925], "nice": false, "zero": false}, "axis": null},
  "y": {"field": "y", "type": "quantitative", "scale": {"domain": [-8, 0], "nice": false, "zero": false}, "axis": null},
  "text": {"field": "text"}}},
{"data": {"name": "notes"}, "transform": [{"filter": "datum.p === 'dB' && datum.k === 'tag'"}],
 "mark": {"type": "text", "fontSize": 27, "align": "right", "baseline": "middle"},
 "encoding": {
  "x": {"field": "x", "type": "quantitative", "scale": {"domain": [0.051, 1.0925], "nice": false, "zero": false}, "axis": null},
  "y": {"field": "y", "type": "quantitative", "scale": {"domain": [-8, 0], "nice": false, "zero": false}, "axis": null},
  "text": {"field": "text"}}},
{"data": {"name": "notes"}, "transform": [{"filter": "datum.p === 'dB' && datum.k === 'el'"}],
 "mark": {"type": "text", "fontSize": 38, "align": "right", "baseline": "alphabetic"},
 "encoding": {
  "x": {"field": "x", "type": "quantitative", "scale": {"domain": [0.051, 1.0925], "nice": false, "zero": false}, "axis": null},
  "y": {"field": "y", "type": "quantitative", "scale": {"domain": [-8, 0], "nice": false, "zero": false}, "axis": null},
  "text": {"field": "text"}}},
{"data": {"name": "notes"}, "transform": [{"filter": "datum.p === 'dB' && datum.k === 't1'"}],
 "mark": {"type": "text", "angle": 270, "align": "left", "baseline": "alphabetic", "fontSize": 35, "fontStyle": "italic"},
 "encoding": {
  "x": {"field": "x", "type": "quantitative", "scale": {"domain": [0.051, 1.0925], "nice": false, "zero": false}, "axis": null},
  "y": {"field": "y", "type": "quantitative", "scale": {"domain": [-8, 0], "nice": false, "zero": false}, "axis": null},
  "text": {"field": "text"}}},
{"data": {"name": "notes"}, "transform": [{"filter": "datum.p === 'dB' && datum.k === 't2'"}],
 "mark": {"type": "text", "angle": 270, "align": "left", "baseline": "alphabetic", "fontSize": 24, "dx": 7.8, "dy": 12},
 "encoding": {
  "x": {"field": "x", "type": "quantitative", "scale": {"domain": [0.051, 1.0925], "nice": false, "zero": false}, "axis": null},
  "y": {"field": "y", "type": "quantitative", "scale": {"domain": [-8, 0], "nice": false, "zero": false}, "axis": null},
  "text": {"field": "text"}}},
{"data": {"name": "notes"}, "transform": [{"filter": "datum.p === 'dB' && datum.k === 't3'"}],
 "mark": {"type": "text", "angle": 270, "align": "left", "baseline": "alphabetic", "fontSize": 35, "dx": 70.8},
 "encoding": {
  "x": {"field": "x", "type": "quantitative", "scale": {"domain": [0.051, 1.0925], "nice": false, "zero": false}, "axis": null},
  "y": {"field": "y", "type": "quantitative", "scale": {"domain": [-8, 0], "nice": false, "zero": false}, "axis": null},
  "text": {"field": "text"}}},
{"data": {"name": "notes"}, "transform": [{"filter": "datum.p === 'dB' && datum.k === 't4'"}],
 "mark": {"type": "text", "angle": 270, "align": "left", "baseline": "alphabetic", "fontSize": 24, "dx": 199.1, "dy": -22},
 "encoding": {
  "x": {"field": "x", "type": "quantitative", "scale": {"domain": [0.051, 1.0925], "nice": false, "zero": false}, "axis": null},
  "y": {"field": "y", "type": "quantitative", "scale": {"domain": [-8, 0], "nice": false, "zero": false}, "axis": null},
  "text": {"field": "text"}}},
{"data": {"name": "leg"},
 "mark": {"type": "rule", "strokeWidth": 2.8},
 "encoding": {
  "x": {"field": "x1", "type": "quantitative", "scale": {"domain": [0.051, 1.0925], "nice": false, "zero": false}, "axis": null},
  "x2": {"field": "x2"},
  "y": {"field": "y", "type": "quantitative", "scale": {"domain": [-8, 0], "nice": false, "zero": false}, "axis": null},
  "color": {"field": "s", "type": "nominal", "scale": {"domain": ["Pt/C ref.","CoSn Gr","CoSn GrA","NiSn Gr","NiSn GrA"], "range": ["#111111","#ec1c24","#ec1c24","#1a1aa6","#1a1aa6"]}, "legend": null},
  "strokeDash": {"field": "s", "type": "nominal", "scale": {"domain": ["Pt/C ref.","CoSn Gr","CoSn GrA","NiSn Gr","NiSn GrA"], "range": [[4,4],[1,0],[14,9],[1,0],[14,9]]}, "legend": null}}},
{"data": {"name": "leg"},
 "mark": {"type": "text", "fontSize": 27, "align": "left", "baseline": "middle"},
 "encoding": {
  "x": {"field": "tx", "type": "quantitative", "scale": {"domain": [0.051, 1.0925], "nice": false, "zero": false}, "axis": null},
  "y": {"field": "y", "type": "quantitative", "scale": {"domain": [-8, 0], "nice": false, "zero": false}, "axis": null},
  "text": {"field": "a"}}},
{"data": {"name": "leg"}, "transform": [{"filter": "datum.g === 'Co'"}],
 "mark": {"type": "text", "fontSize": 19, "align": "left", "baseline": "middle", "dx": 67.5, "dy": 11},
 "encoding": {
  "x": {"field": "tx", "type": "quantitative", "scale": {"domain": [0.051, 1.0925], "nice": false, "zero": false}, "axis": null},
  "y": {"field": "y", "type": "quantitative", "scale": {"domain": [-8, 0], "nice": false, "zero": false}, "axis": null},
  "text": {"field": "b"}}},
{"data": {"name": "leg"}, "transform": [{"filter": "datum.g === 'Ni'"}],
 "mark": {"type": "text", "fontSize": 19, "align": "left", "baseline": "middle", "dx": 58.5, "dy": 11},
 "encoding": {
  "x": {"field": "tx", "type": "quantitative", "scale": {"domain": [0.051, 1.0925], "nice": false, "zero": false}, "axis": null},
  "y": {"field": "y", "type": "quantitative", "scale": {"domain": [-8, 0], "nice": false, "zero": false}, "axis": null},
  "text": {"field": "b"}}},
{"data": {"name": "leg"}, "transform": [{"filter": "datum.g === 'Co'"}],
 "mark": {"type": "text", "fontSize": 27, "align": "left", "baseline": "middle", "dx": 93.9},
 "encoding": {
  "x": {"field": "tx", "type": "quantitative", "scale": {"domain": [0.051, 1.0925], "nice": false, "zero": false}, "axis": null},
  "y": {"field": "y", "type": "quantitative", "scale": {"domain": [-8, 0], "nice": false, "zero": false}, "axis": null},
  "text": {"field": "c"}}},
{"data": {"name": "leg"}, "transform": [{"filter": "datum.g === 'Ni'"}],
 "mark": {"type": "text", "fontSize": 27, "align": "left", "baseline": "middle", "dx": 84.9},
 "encoding": {
  "x": {"field": "tx", "type": "quantitative", "scale": {"domain": [0.051, 1.0925], "nice": false, "zero": false}, "axis": null},
  "y": {"field": "y", "type": "quantitative", "scale": {"domain": [-8, 0], "nice": false, "zero": false}, "axis": null},
  "text": {"field": "c"}}},
{"data": {"name": "leg"}, "transform": [{"filter": "datum.g === 'Co'"}],
 "mark": {"type": "text", "fontSize": 19, "align": "left", "baseline": "middle", "dx": 141.9, "dy": 11},
 "encoding": {
  "x": {"field": "tx", "type": "quantitative", "scale": {"domain": [0.051, 1.0925], "nice": false, "zero": false}, "axis": null},
  "y": {"field": "y", "type": "quantitative", "scale": {"domain": [-8, 0], "nice": false, "zero": false}, "axis": null},
  "text": {"field": "d"}}},
{"data": {"name": "leg"}, "transform": [{"filter": "datum.g === 'Ni'"}],
 "mark": {"type": "text", "fontSize": 19, "align": "left", "baseline": "middle", "dx": 132.9, "dy": 11},
 "encoding": {
  "x": {"field": "tx", "type": "quantitative", "scale": {"domain": [0.051, 1.0925], "nice": false, "zero": false}, "axis": null},
  "y": {"field": "y", "type": "quantitative", "scale": {"domain": [-8, 0], "nice": false, "zero": false}, "axis": null},
  "text": {"field": "d"}}},
{"data": {"name": "leg"}, "transform": [{"filter": "datum.g === 'Co'"}],
 "mark": {"type": "text", "fontSize": 27, "align": "left", "baseline": "middle", "dx": 154.7},
 "encoding": {
  "x": {"field": "tx", "type": "quantitative", "scale": {"domain": [0.051, 1.0925], "nice": false, "zero": false}, "axis": null},
  "y": {"field": "y", "type": "quantitative", "scale": {"domain": [-8, 0], "nice": false, "zero": false}, "axis": null},
  "text": {"field": "e"}}},
{"data": {"name": "leg"}, "transform": [{"filter": "datum.g === 'Ni'"}],
 "mark": {"type": "text", "fontSize": 27, "align": "left", "baseline": "middle", "dx": 145.7},
 "encoding": {
  "x": {"field": "tx", "type": "quantitative", "scale": {"domain": [0.051, 1.0925], "nice": false, "zero": false}, "axis": null},
  "y": {"field": "y", "type": "quantitative", "scale": {"domain": [-8, 0], "nice": false, "zero": false}, "axis": null},
  "text": {"field": "e"}}},
{"data": {"name": "leg"}, "transform": [{"filter": "datum.g === 'Co'"}],
 "mark": {"type": "text", "fontSize": 19, "align": "left", "baseline": "middle", "dx": 237.3, "dy": 11},
 "encoding": {
  "x": {"field": "tx", "type": "quantitative", "scale": {"domain": [0.051, 1.0925], "nice": false, "zero": false}, "axis": null},
  "y": {"field": "y", "type": "quantitative", "scale": {"domain": [-8, 0], "nice": false, "zero": false}, "axis": null},
  "text": {"field": "f"}}},
{"data": {"name": "leg"}, "transform": [{"filter": "datum.g === 'Ni'"}],
 "mark": {"type": "text", "fontSize": 19, "align": "left", "baseline": "middle", "dx": 228.2, "dy": 11},
 "encoding": {
  "x": {"field": "tx", "type": "quantitative", "scale": {"domain": [0.051, 1.0925], "nice": false, "zero": false}, "axis": null},
  "y": {"field": "y", "type": "quantitative", "scale": {"domain": [-8, 0], "nice": false, "zero": false}, "axis": null},
  "text": {"field": "f"}}}
]
}
],
"config": {
 "font": "Liberation Sans",
 "view": {"stroke": null},
 "axis": {"grid": false, "domainColor": "black", "domainWidth": 1.5, "tickColor": "black", "tickWidth": 1.5, "labelColor": "black", "labelFont": "Liberation Sans", "labelFontSize": 31, "labelOverlap": false, "labelFlush": false, "labelPadding": 10, "titleColor": "black", "titleFont": "Liberation Sans", "titleFontWeight": "normal"},
 "text": {"color": "black", "font": "Liberation Sans"}
}
}
